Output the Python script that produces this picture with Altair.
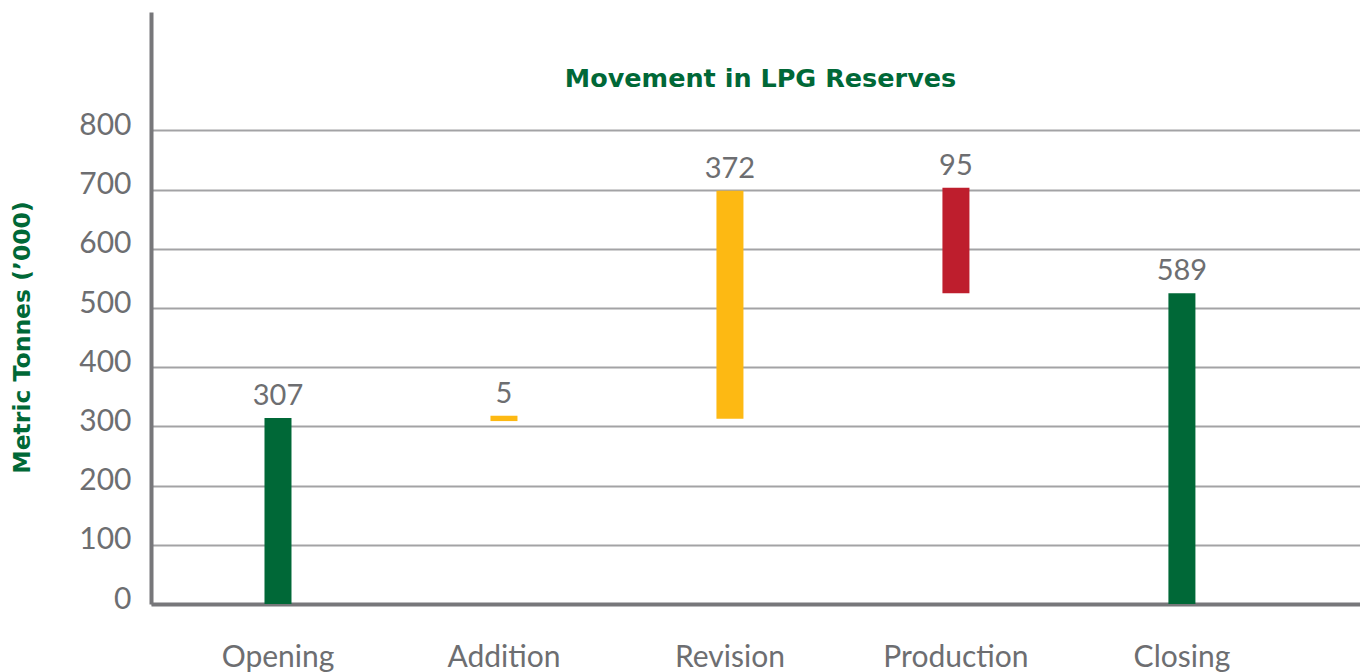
import altair as alt
import pandas as pd

categories = ["Opening", "Addition", "Revision", "Production", "Closing"]
bar_low = [0, 309, 313, 525, 0]
bar_high = [314, 318, 698, 703, 525]
value_labels = ["307", "5", "372", "95", "589"]
bar_colors = ["#006837", "#FDB913", "#FDB913", "#BE1E2D", "#006837"]
y_ticks = [0, 100, 200, 300, 400, 500, 600, 700, 800]

df = pd.DataFrame({
    "cat": categories,
    "low": bar_low,
    "high": bar_high,
    "label": value_labels,
    "color": bar_colors,
})

GREEN = "#006837"
GRAY_TXT = "#6d6e71"
FONT = "Lato"
BOLD_FONT = "DejaVu Sans"

x_enc = alt.X(
    "cat:N",
    sort=categories,
    scale=alt.Scale(paddingInner=0, paddingOuter=0.175, align=0.177),
    axis=alt.Axis(
        title=None, labelAngle=0, labelFont=FONT, labelFontSize=30,
        labelColor=GRAY_TXT, labelPadding=38, ticks=False,
        domainColor="#77777a", domainWidth=4, grid=False,
    ),
)

y_scale = alt.Scale(domain=[0, 1000], nice=False)

bars = alt.Chart(df).mark_bar(size=27).encode(
    x=x_enc,
    y=alt.Y(
        "low:Q",
        scale=y_scale,
        axis=alt.Axis(
            values=y_ticks, title="Metric Tonnes (’000)",
            titleFont=BOLD_FONT, titleFontSize=23.5, titleFontWeight="bold",
            titleColor=GREEN, titleAngle=-90, titleX=-129, titleY=325,
            titleAlign="center", titleBaseline="middle",
            labelFont=FONT, labelFontSize=30, labelColor=GRAY_TXT,
            labelPadding=20, labelOffset=-5, ticks=False,
            domainColor="#77777a", domainWidth=4,
            grid=True, gridColor="#a3a3a5", gridWidth=2,
        ),
    ),
    y2="high:Q",
    color=alt.Color("color:N", scale=None, legend=None),
)

labels = alt.Chart(df).mark_text(
    baseline="bottom", dy=-7, font=FONT, fontSize=29, color=GRAY_TXT
).encode(
    x=alt.X("cat:N", sort=categories),
    y=alt.Y("high:Q", scale=y_scale),
    text="label:N",
)

chart = alt.layer(bars, labels).properties(
    width=1209,
    height=592,
    autosize=alt.AutoSizeParams(type="none"),
    padding={"left": 143, "top": 4, "right": 0, "bottom": 68},
    title=alt.TitleParams(
        "Movement in LPG Reserves", font=BOLD_FONT, fontSize=25.5, fontWeight="bold",
        color=GREEN, offset=-80, frame="group", anchor="middle", dx=5,
    ),
).configure_view(stroke=None)

chart.save("out.html", embed_options={"renderer": "svg", "actions": False})
